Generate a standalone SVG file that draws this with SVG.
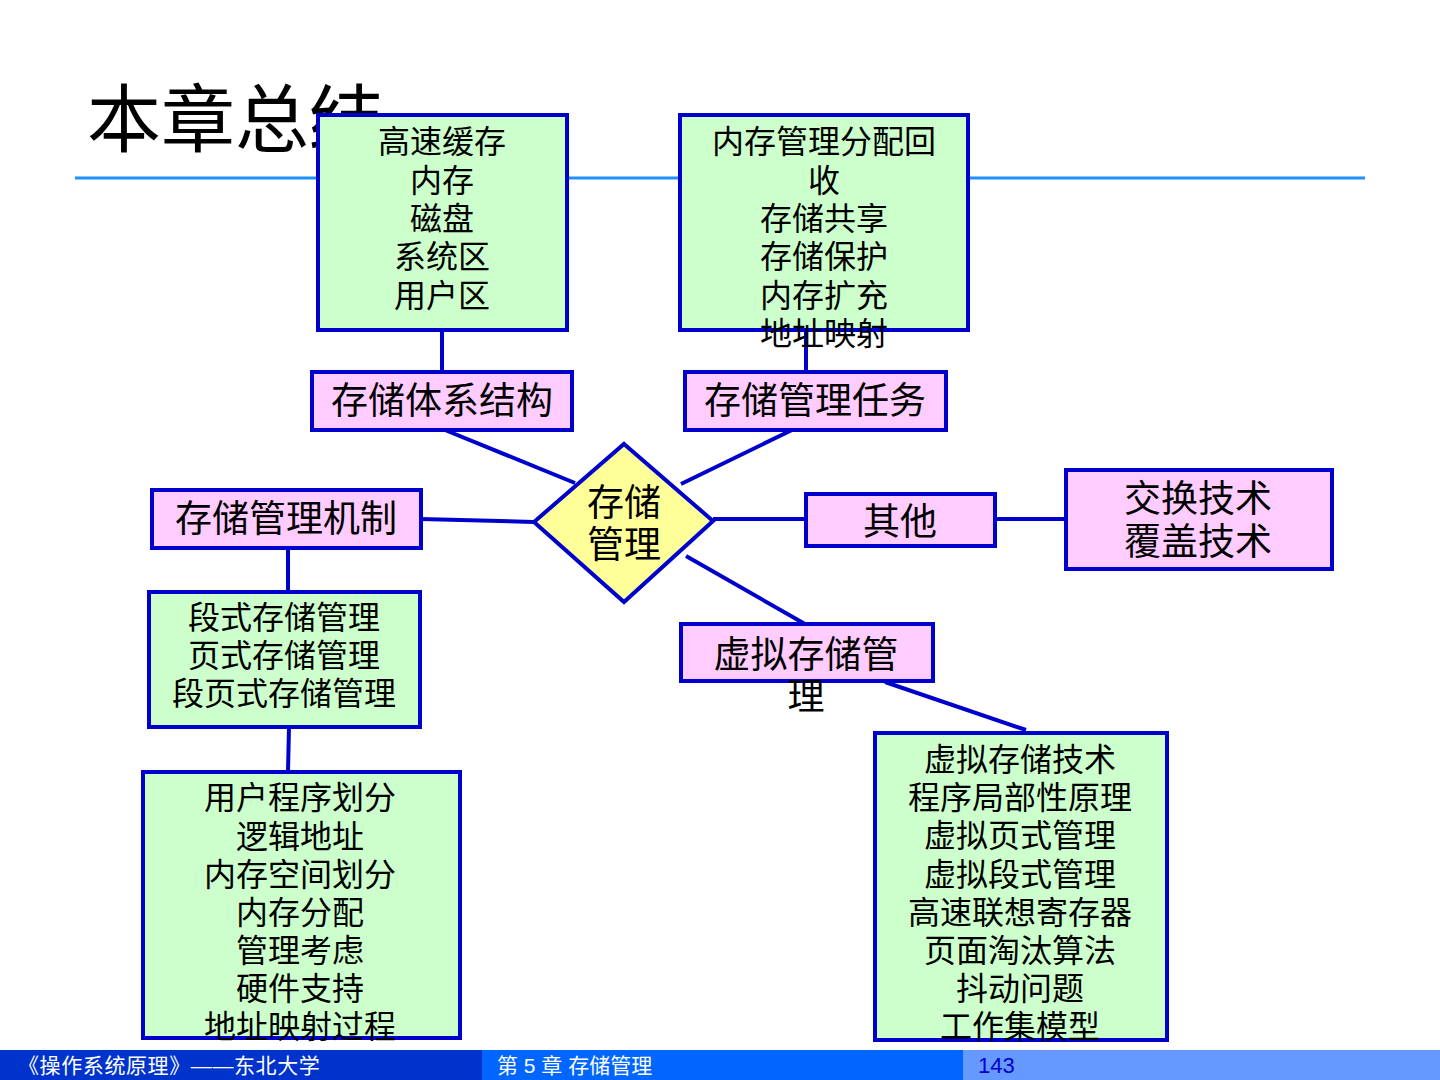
<svg xmlns="http://www.w3.org/2000/svg" width="1440" height="1080" viewBox="0 0 1440 1080">
<style>
text{font-family:"Liberation Sans","Noto Sans CJK SC",sans-serif;fill:#000;text-anchor:middle}
.g{fill:#CCFFCC;stroke:#0000CC;stroke-width:4}
.p{fill:#FFCCFF;stroke:#0000CC;stroke-width:4}
.d{fill:#FFFF99;stroke:#0000CC;stroke-width:4}
.s{font-size:32px}
.m{font-size:37px}
.c{stroke:#0000CC;stroke-width:4;fill:none}
.f{font-size:21px;fill:#fff;text-anchor:start}
</style>
<rect x="0" y="0" width="1440" height="1080" fill="#fff"/>
<text x="87" y="146" style="font-size:74px;text-anchor:start">本章总结</text>
<line x1="75" y1="178" x2="1365" y2="178" stroke="#1E90FF" stroke-width="3"/>
<g id="connectors" class="c">
<line x1="442" y1="330" x2="442" y2="371"/>
<line x1="806" y1="330" x2="806" y2="371"/>
<line x1="445" y1="430" x2="575" y2="483"/>
<line x1="792" y1="430" x2="681" y2="484"/>
<line x1="421" y1="519" x2="534" y2="522"/>
<line x1="713" y1="519" x2="805" y2="519"/>
<line x1="995" y1="519" x2="1065" y2="519"/>
<line x1="686" y1="556" x2="805" y2="624"/>
<line x1="885" y1="682" x2="1026" y2="730"/>
<line x1="288" y1="548" x2="288" y2="591"/>
<line x1="289" y1="727" x2="288" y2="771"/>
</g>
<g id="n_cache">
<rect class="g" x="318" y="115" width="249" height="215"/>
<text class="s" x="442" y="153">高速缓存</text>
<text class="s" x="442" y="192">内存</text>
<text class="s" x="442" y="230">磁盘</text>
<text class="s" x="442" y="268">系统区</text>
<text class="s" x="442" y="307">用户区</text>
</g>
<g id="n_tasks_detail">
<rect class="g" x="680" y="115" width="288" height="215"/>
<text class="s" x="824" y="153">内存管理分配回</text>
<text class="s" x="824" y="192">收</text>
<text class="s" x="824" y="230">存储共享</text>
<text class="s" x="824" y="268">存储保护</text>
<text class="s" x="824" y="307">内存扩充</text>
<text class="s" x="824" y="345">地址映射</text>
</g>
<g id="n_arch">
<rect class="p" x="312" y="372" width="260" height="58"/>
<text class="m" x="442" y="414">存储体系结构</text>
</g>
<g id="n_tasks">
<rect class="p" x="685" y="372" width="261" height="58"/>
<text class="m" x="815" y="414">存储管理任务</text>
</g>
<g id="n_center">
<polygon class="d" points="624,444 713,521 624,602 534,522"/>
<text class="m" x="624" y="516">存储</text>
<text class="m" x="624" y="558">管理</text>
</g>
<g id="n_mech">
<rect class="p" x="152" y="490" width="269" height="58"/>
<text class="m" x="286" y="532">存储管理机制</text>
</g>
<g id="n_other">
<rect class="p" x="806" y="494" width="189" height="52"/>
<text class="m" x="900" y="535">其他</text>
</g>
<g id="n_swap">
<rect class="p" x="1066" y="470" width="266" height="99"/>
<text class="m" x="1198" y="512">交换技术</text>
<text class="m" x="1198" y="555">覆盖技术</text>
</g>
<g id="n_virtual">
<rect class="p" x="681" y="624" width="252" height="57"/>
<text class="m" x="806" y="668">虚拟存储管</text>
<text class="m" x="806" y="710">理</text>
</g>
<g id="n_seg">
<rect class="g" x="149" y="592" width="271" height="135"/>
<text class="s" x="284" y="629">段式存储管理</text>
<text class="s" x="284" y="667">页式存储管理</text>
<text class="s" x="284" y="705">段页式存储管理</text>
</g>
<g id="n_user">
<rect class="g" x="143" y="772" width="317" height="266"/>
<text class="s" x="300" y="809">用户程序划分</text>
<text class="s" x="300" y="848">逻辑地址</text>
<text class="s" x="300" y="886">内存空间划分</text>
<text class="s" x="300" y="924">内存分配</text>
<text class="s" x="300" y="962">管理考虑</text>
<text class="s" x="300" y="1000">硬件支持</text>
<text class="s" x="300" y="1038">地址映射过程</text>
</g>
<g id="n_vtech">
<rect class="g" x="875" y="733" width="292" height="307"/>
<text class="s" x="1020" y="771">虚拟存储技术</text>
<text class="s" x="1020" y="809">程序局部性原理</text>
<text class="s" x="1020" y="847">虚拟页式管理</text>
<text class="s" x="1020" y="886">虚拟段式管理</text>
<text class="s" x="1020" y="924">高速联想寄存器</text>
<text class="s" x="1020" y="962">页面淘汰算法</text>
<text class="s" x="1020" y="1000">抖动问题</text>
<text class="s" x="1020" y="1038">工作集模型</text>
</g>
<g id="footer">
<rect x="0" y="1050" width="482" height="30" fill="#0033CC"/>
<rect x="482" y="1050" width="481" height="30" fill="#0066FF"/>
<rect x="963" y="1050" width="477" height="30" fill="#6699FF"/>
<text class="f" x="18" y="1073" style="letter-spacing:0.6px">《操作系统原理》——东北大学</text>
<text class="f" x="497" y="1073">第 5 章  存储管理</text>
<text class="f" x="978" y="1073" style="fill:#0000CC;font-size:22px">143</text>
</g>
</svg>
